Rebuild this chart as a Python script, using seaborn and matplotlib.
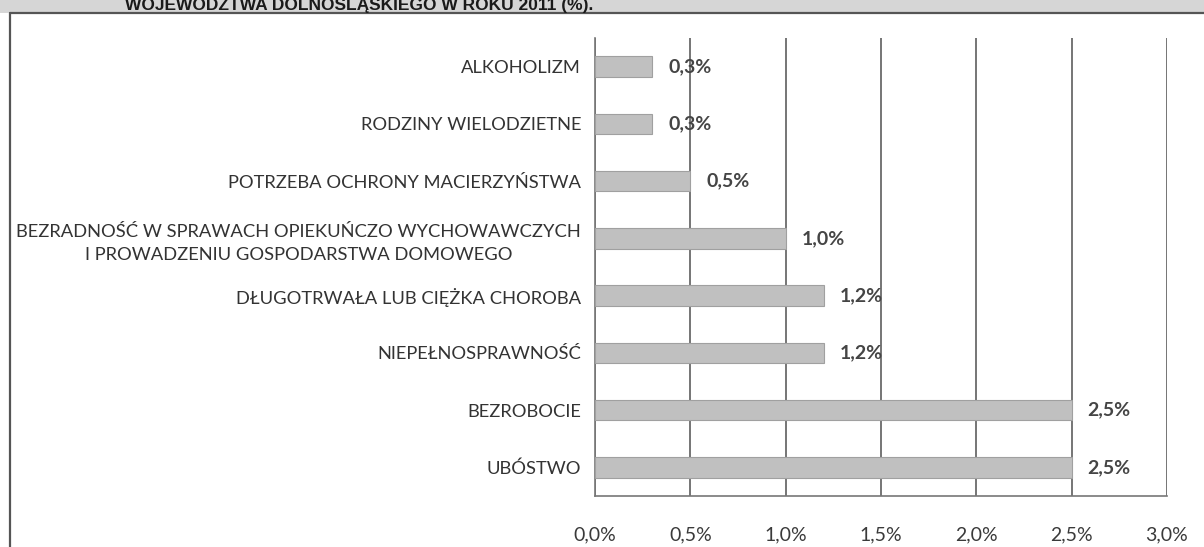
import matplotlib
matplotlib.use("Agg")
import matplotlib.pyplot as plt
from matplotlib.patches import Rectangle
from matplotlib.lines import Line2D
from matplotlib.ticker import MultipleLocator, FixedLocator, FuncFormatter
import seaborn as sns
import pandas as pd

categories = [
    "ALKOHOLIZM",
    "RODZINY WIELODZIETNE",
    "POTRZEBA OCHRONY MACIERZYŃSTWA",
    "BEZRADNOŚĆ W SPRAWACH OPIEKUŃCZO WYCHOWAWCZYCH\nI PROWADZENIU GOSPODARSTWA DOMOWEGO",
    "DŁUGOTRWAŁA LUB CIĘŻKA CHOROBA",
    "NIEPEŁNOSPRAWNOŚĆ",
    "BEZROBOCIE",
    "UBÓSTWO",
]
values = [0.3, 0.3, 0.5, 1.0, 1.2, 1.2, 2.5, 2.5]
title = "WOJEWÓDZTWA DOLNOŚLĄSKIEGO W ROKU 2011 (%)."

sns.set_theme(style="white")
plt.rcParams["font.family"] = ["Lato", "DejaVu Sans"]

W, H = 1204, 547
fig = plt.figure(figsize=(W / 100, H / 100), dpi=100)
fig.patch.set_facecolor("white")

# header band and frame of the figure box
fig.patches.append(Rectangle((0, 1 - 13 / H), 1, 13 / H, transform=fig.transFigure,
                             facecolor="#d6d6d6", edgecolor="none", zorder=0))
fig.lines.append(Line2D([10 / W, 1], [1 - 13 / H, 1 - 13 / H], transform=fig.transFigure,
                        color="#555555", lw=1.6))
fig.lines.append(Line2D([10 / W, 10 / W], [0, 1 - 13 / H], transform=fig.transFigure,
                        color="#555555", lw=1.6))
fig.text(125 / W, 1 - 10 / H, title, fontsize=12.5, fontweight="bold", color="#1a1a1a",
         family=["Liberation Sans", "DejaVu Sans"], va="baseline", ha="left")

ax = fig.add_axes([595 / W, 1 - 496 / H, (1167 - 595) / W, (496 - 38) / H])
df = pd.DataFrame({"kategoria": categories, "udzial": values})
sns.barplot(data=df, y="kategoria", x="udzial", orient="h", color="#c0c0c0",
            edgecolor="#a0a0a0", linewidth=0.8, width=0.36, saturation=1, ax=ax, zorder=3)

ax.set_xlim(0, 3.0)
ax.set_ylim(len(categories) - 0.5, -0.5)
ax.xaxis.set_major_locator(MultipleLocator(0.5))
ax.xaxis.set_major_formatter(FuncFormatter(lambda v, p: f"{v:.1f}%".replace(".", ",")))
ax.grid(axis="x", color="#5e5e5e", lw=1.2, zorder=1)
ax.grid(axis="y", visible=False)
ax.set_xlabel("")
ax.set_ylabel("")

for s in ["top", "right"]:
    ax.spines[s].set_visible(False)
ax.spines["left"].set_color("#777777")
ax.spines["bottom"].set_color("#777777")
ax.spines["left"].set_linewidth(1.2)
ax.spines["bottom"].set_linewidth(1.2)

ax.tick_params(axis="x", direction="out", length=5, width=1, color="#777777",
               labelsize=14, labelcolor="#3a3a3a", pad=17)
ax.tick_params(axis="y", which="major", length=0, labelsize=13.2, labelcolor="#333333", pad=10)
ax.yaxis.set_minor_locator(FixedLocator([i - 0.5 for i in range(len(categories) + 1)]))
ax.tick_params(axis="y", which="minor", direction="out", length=5, width=1, color="#777777")
for lab in ax.get_yticklabels():
    lab.set_multialignment("center")
    lab.set_linespacing(1.55)

for i, v in enumerate(values):
    ax.annotate(f"{v:.1f}%".replace(".", ","), xy=(v, i), xytext=(16, 0),
                textcoords="offset pixels",
                va="center", ha="left", fontsize=14, fontweight="bold",
                color="#454545", zorder=4)

fig.savefig("out.png", dpi=100)
